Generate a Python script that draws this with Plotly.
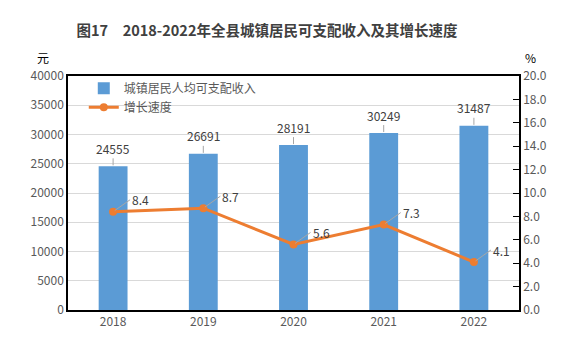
import plotly.graph_objects as go

years = ["2018", "2019", "2020", "2021", "2022"]
income = [24555, 26691, 28191, 30249, 31487]
growth = [8.4, 8.7, 5.6, 7.3, 4.1]
growth_labels = ["8.4", "8.7", "5.6", "7.3", "4.1"]
left_ticks = [0, 5000, 10000, 15000, 20000, 25000, 30000, 35000, 40000]
right_ticks = [0, 2, 4, 6, 8, 10, 12, 14, 16, 18, 20]

FONT = "Noto Sans CJK SC"
GREY = "#595959"
BLUE = "#5B9BD5"
ORANGE = "#ED7D31"

W, H = 580, 358
ml, mr, mt, mb = 68, 61, 76, 48
pw, ph = W - ml - mr, H - mt - mb


def px(xp, yp):
    return (xp - ml) / pw, (H - mb - yp) / ph


fig = go.Figure()
fig.add_trace(go.Bar(
    x=years, y=income, name="城镇居民人均可支配收入",
    marker=dict(color=BLUE, line=dict(width=0)), yaxis="y",
))
fig.add_trace(go.Scatter(
    x=years, y=growth, name="增长速度", yaxis="y2",
    mode="lines+markers",
    line=dict(color=ORANGE, width=3),
    marker=dict(color=ORANGE, size=8),
))

anns = []
for i, v in enumerate(income):
    anns.append(dict(
        x=i, y=v, xref="x", yref="y", text=str(v),
        showarrow=True, arrowhead=0, arrowwidth=1, arrowcolor="#A6A6A6",
        ax=0, ay=-18, standoff=1,
        font=dict(family=FONT, size=12, color="#404040"),
    ))
for i, (v, t) in enumerate(zip(growth, growth_labels)):
    anns.append(dict(
        x=i, y=v, xref="x", yref="y2", text=t,
        showarrow=True, arrowhead=0, arrowwidth=1, arrowcolor="#A6A6A6",
        ax=17, ay=-12, xanchor="left", standoff=2,
        font=dict(family=FONT, size=12, color="#404040"),
    ))
ux, uy = px(35, 47)
anns.append(dict(text="元", x=ux, y=uy, xref="paper", yref="paper", showarrow=False,
                 font=dict(family=FONT, size=12, color="#000000")))
ux, uy = px(538, 47)
anns.append(dict(text="%", x=ux, y=uy, xref="paper", yref="paper", showarrow=False,
                 font=dict(family=FONT, size=12, color="#000000")))

fig.update_layout(
    annotations=anns,
    width=W, height=H,
    margin=dict(l=ml, r=mr, t=mt, b=mb, autoexpand=False),
    paper_bgcolor="white", plot_bgcolor="white",
    bargap=0.68,
    title=dict(text="<b>图17　2018-2022年全县城镇居民可支配收入及其增长速度</b>",
               x=267 / W, xanchor="center", y=1 - 31 / H, yanchor="middle",
               font=dict(family=FONT, size=14.5, color="#404040")),
    showlegend=True,
    legend=dict(x=0.035, y=1.01, xanchor="left", yanchor="top",
                bgcolor="rgba(0,0,0,0)", tracegroupgap=0,
                font=dict(family=FONT, size=12, color=GREY),
                itemwidth=30),
    xaxis=dict(type="category", range=[-0.5, len(years) - 0.5], showgrid=False,
               showline=True, linecolor="#000000",
               linewidth=1.5, mirror=True, ticks="", automargin=False,
               tickfont=dict(family=FONT, size=12, color=GREY)),
    yaxis=dict(range=[0, 40000], tickvals=left_ticks, tickformat="d", showgrid=True,
               gridcolor="#D9D9D9", gridwidth=1, showline=True, linecolor="#000000",
               linewidth=1.5, mirror=True, ticks="", zeroline=False, automargin=False,
               tickfont=dict(family=FONT, size=12, color=GREY)),
    yaxis2=dict(range=[0, 20], tickvals=right_ticks,
                ticktext=[f"{v:.1f}" for v in right_ticks],
                overlaying="y", side="right", showgrid=False, zeroline=False,
                showline=True, linecolor="#000000", linewidth=1.5, automargin=False,
                ticks="inside", ticklen=6, tickcolor="#000000",
                tickfont=dict(family=FONT, size=12, color=GREY)),
)

fig.write_html("out.html", config={"displayModeBar": False},
               post_script="document.body.style.margin='0';")
